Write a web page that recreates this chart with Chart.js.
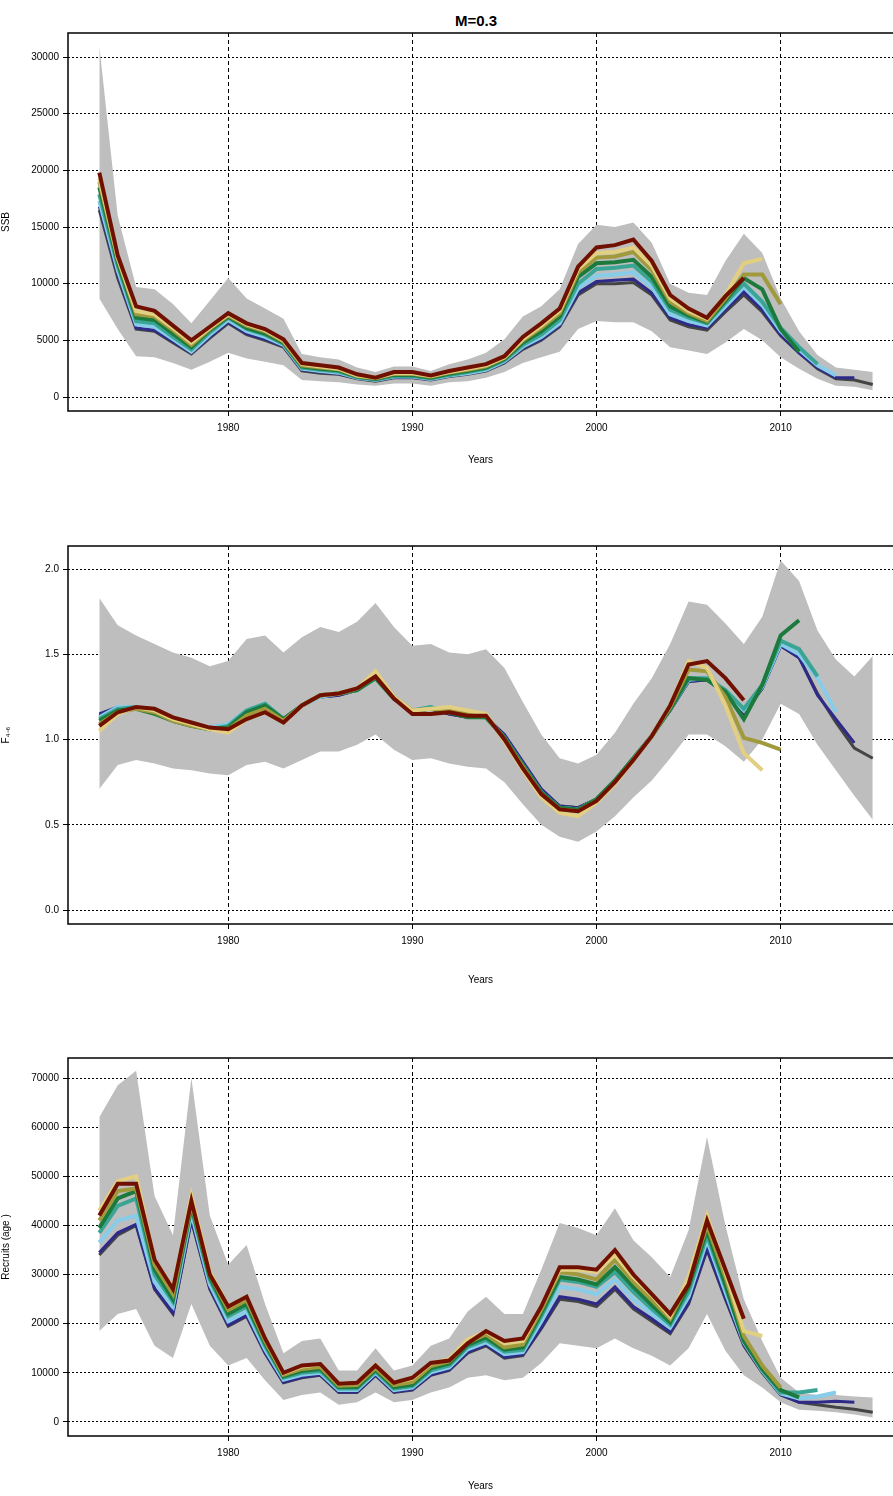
<!DOCTYPE html>
<html>
<head>
<meta charset="utf-8">
<script src="https://cdn.jsdelivr.net/npm/chart.js@4"></script>
<style>
  body { margin: 0; background: #fff; width: 893px; height: 1496px; position: relative; overflow: hidden; font-family: "Liberation Sans", Arial, sans-serif; }
  .panel { position: absolute; left: 0; width: 893px; }
  #title { position: absolute; top: 12px; left: 455px; font-weight: bold; font-size: 15px; }
</style>
</head>
<body>
<div id="title">M=0.3</div>
<div class="panel" style="top:0;height:470px"><canvas id="ssbChart"></canvas></div>
<div class="panel" style="top:530px;height:460px"><canvas id="fChart"></canvas></div>
<div class="panel" style="top:1040px;height:456px"><canvas id="recChart"></canvas></div>
<script>
// --- Data (years 1973..2015, each retro peel ends one year earlier) ---
const years = [];
for (let y = 1973; y <= 2015; y++) years.push(y);

const peelNames = ['2015', '2014', '2013', '2012', '2011', '2010', '2009', '2008'];
const peelColors = ['#444444', '#2e2a8a', '#87cdea', '#3aa595', '#1b7a3c', '#a09a3c', '#e3cf82', '#701000'];
const peelWidths = [3, 3, 4, 4, 4, 4, 4, 4];

// SSB
const ssbUpper = [31000,16000,9700,9500,8200,6500,8500,10500,8700,7800, 6900,3800,3500,3300,2600,2200,2700,2700,2300,2900, 3300,3900,5100,7100,8000,9500,13500,15200,15000,15400, 13600,10000,9200,9000,12000,14400,12700,8700,5800,3700, 2600,2400,2200];
const ssbLower = [8700,6000,3600,3500,3000,2400,3100,3900,3400,3100, 2800,1500,1400,1300,1100,1000,1200,1200,1000,1300, 1400,1700,2200,3000,3500,4000,6000,6700,6600,6600, 5800,4400,4100,3800,4800,6000,5000,3500,2500,1600, 1000,900,600];
const ssb15 = [16500,10500,6000,5800,4800,3800,5200,6500,5500,5000, 4400,2300,2100,2000,1600,1400,1700,1700,1500,1800, 2000,2300,3000,4200,5000,6200,9000,10000,10000,10100, 9000,6800,6200,5900,7500,9000,7500,5400,3900,2500, 1600,1500,1100];
const ssb14 = [16800,10800,6100,5900,4900,3900,5300,6600,5600,5100, 4500,2400,2200,2050,1650,1450,1750,1750,1550,1850, 2050,2350,3050,4300,5100,6300,9200,10200,10300,10400, 9200,7000,6400,6100,7700,9300,7700,5500,3900,2600, 1700,1700];
const ssb13 = [17300,11200,6400,6200,5100,4000,5500,6800,5800,5300, 4600,2500,2300,2150,1700,1500,1800,1800,1600,1900, 2100,2400,3150,4450,5300,6500,9600,10700,10800,11000, 9700,7300,6700,6300,8000,9700,8100,5800,4200,2800, 1900];
const ssb12 = [17900,11600,6700,6500,5300,4200,5700,7000,6000,5500, 4700,2600,2400,2250,1750,1550,1850,1850,1650,1950, 2200,2500,3250,4600,5500,6800,10000,11300,11400,11600, 10200,7700,7000,6500,8300,10000,8400,6100,4400,2900];
const ssb11 = [18500,11900,7000,6800,5600,4400,5900,7100,6100,5600, 4800,2700,2500,2350,1800,1600,1950,1950,1700,2050, 2300,2600,3350,4800,5800,7100,10600,11800,11900,12100, 10600,8000,7200,6600,8500,10500,9500,6000,4000];
const ssb10 = [19000,12200,7300,7100,5900,4600,6000,7200,6300,5800, 4900,2800,2600,2450,1850,1650,2050,2050,1800,2150, 2400,2700,3450,5000,6100,7400,11000,12300,12400,12800, 11200,8400,7400,6700,8700,10800,10800,8200];
const ssb09 = [19300,12300,7600,7300,6100,4800,6100,7300,6400,5900, 5000,2900,2700,2500,1900,1700,2100,2100,1850,2200, 2500,2800,3500,5100,6300,7600,11300,12700,12800,13200, 11600,8700,7600,6900,9000,11800,12200];
const ssb08 = [19800,12500,8000,7600,6300,5000,6200,7400,6500,6000, 5100,3000,2800,2600,2000,1700,2200,2200,1900,2300, 2600,2900,3600,5300,6500,7800,11500,13200,13400,13900, 12000,9000,7800,7000,8900,10500];

// F (ages 4-6)
const fUpper = [1.83,1.67,1.61,1.56,1.51,1.48,1.43,1.46,1.59,1.61, 1.51,1.60,1.66,1.63,1.69,1.80,1.66,1.55,1.56,1.51, 1.50,1.53,1.42,1.22,1.03,0.89,0.86,0.91,1.04,1.21, 1.36,1.56,1.81,1.79,1.68,1.56,1.72,2.05,1.93,1.64, 1.47,1.37,1.49];
const fLower = [0.71,0.85,0.88,0.86,0.83,0.82,0.80,0.79,0.85,0.87, 0.83,0.88,0.93,0.93,0.97,1.03,0.94,0.88,0.89,0.86, 0.84,0.83,0.75,0.62,0.50,0.43,0.40,0.46,0.55,0.66, 0.76,0.89,1.03,1.03,0.96,0.87,1.00,1.21,1.15,0.97, 0.82,0.67,0.53];
const f15 = [1.14,1.19,1.19,1.16,1.12,1.09,1.07,1.09,1.17,1.20, 1.12,1.20,1.25,1.26,1.29,1.36,1.25,1.16,1.18,1.15, 1.13,1.13,1.02,0.86,0.70,0.61,0.60,0.65,0.76,0.89, 1.02,1.17,1.34,1.35,1.27,1.15,1.30,1.55,1.48,1.27, 1.10,0.95,0.89];
const f14 = [1.15,1.19,1.19,1.16,1.12,1.09,1.07,1.09,1.17,1.20, 1.12,1.20,1.25,1.26,1.29,1.36,1.25,1.16,1.18,1.15, 1.13,1.13,1.03,0.87,0.71,0.61,0.60,0.65,0.76,0.89, 1.02,1.17,1.34,1.35,1.27,1.16,1.30,1.55,1.48,1.26, 1.12,0.98];
const f13 = [1.13,1.19,1.19,1.16,1.12,1.09,1.07,1.09,1.17,1.21, 1.12,1.20,1.25,1.27,1.29,1.36,1.25,1.17,1.19,1.16, 1.14,1.13,1.01,0.85,0.69,0.60,0.59,0.65,0.76,0.89, 1.02,1.18,1.35,1.36,1.28,1.17,1.31,1.56,1.50,1.36, 1.16];
const f12 = [1.12,1.18,1.19,1.16,1.11,1.08,1.06,1.08,1.17,1.21, 1.12,1.20,1.26,1.27,1.29,1.36,1.24,1.17,1.19,1.16, 1.14,1.13,1.01,0.85,0.69,0.60,0.59,0.65,0.76,0.89, 1.02,1.18,1.36,1.36,1.29,1.18,1.32,1.58,1.53,1.37];
const f11 = [1.11,1.17,1.18,1.15,1.11,1.08,1.06,1.07,1.16,1.20, 1.12,1.20,1.26,1.27,1.29,1.36,1.24,1.17,1.18,1.16, 1.13,1.13,1.01,0.85,0.69,0.60,0.59,0.65,0.76,0.89, 1.02,1.18,1.36,1.35,1.28,1.12,1.32,1.61,1.70];
const f10 = [1.09,1.16,1.18,1.16,1.11,1.08,1.06,1.06,1.14,1.18, 1.11,1.20,1.26,1.27,1.30,1.37,1.25,1.17,1.18,1.17, 1.15,1.14,1.00,0.84,0.68,0.59,0.58,0.64,0.75,0.88, 1.02,1.19,1.41,1.40,1.25,1.01,0.98,0.94];
const f09 = [1.05,1.15,1.19,1.17,1.12,1.09,1.06,1.04,1.12,1.16, 1.10,1.20,1.26,1.27,1.30,1.40,1.25,1.17,1.18,1.19, 1.17,1.15,0.99,0.82,0.66,0.57,0.55,0.63,0.74,0.88, 1.02,1.20,1.46,1.42,1.20,0.92,0.82];
const f08 = [1.08,1.16,1.19,1.18,1.13,1.10,1.07,1.06,1.12,1.16, 1.10,1.20,1.26,1.27,1.30,1.37,1.24,1.15,1.15,1.16, 1.14,1.14,1.00,0.83,0.68,0.59,0.58,0.64,0.75,0.88, 1.02,1.20,1.44,1.46,1.36,1.23];

// Recruits
const recUpper = [62000,68500,71500,46000,38000,70000,42000,32000,36000,24000, 14000,16500,17000,10500,10500,15000,10500,11500,15500,17000, 22500,25500,22000,22000,31000,40500,39500,38000,43500,37000, 33500,29500,39000,58000,40000,25000,16500,9000,6000,5500, 5500,5200,5000];
const recLower = [18500,22000,23000,15500,13000,24000,15500,11500,13000,8500, 4500,5500,6000,3500,4000,6000,4000,4500,6000,7000, 9000,9500,8500,9000,12000,16000,15500,15000,17000,15000, 13500,11500,15000,22000,14500,9500,7000,4000,2500,2300, 2000,1500,900];
const rec15 = [34000,38000,40000,27000,22000,41000,27000,19500,21500,14000, 8000,9000,9500,6000,6000,9500,6000,6500,9500,10500, 14000,15500,13000,13500,19000,25000,24500,23500,27000,23000, 20500,18000,24000,35000,25000,15500,10000,5500,4000,3500, 3000,2600,2000];
const rec14 = [34500,38500,40200,27200,22200,41200,27200,19700,21700,14100, 8100,9100,9600,6100,6100,9600,6100,6600,9600,10600, 14200,15700,13200,13700,19200,25500,25000,24000,27500,23500, 21000,18300,24300,35200,25200,15700,10200,5600,4000,4000, 4200,4000];
const rec13 = [36500,41000,42000,28500,23500,42500,28000,20500,22500,14800, 8600,9600,10000,6500,6500,10000,6500,7000,10100,11100, 14800,16200,13800,14200,20500,27500,27000,26000,29000,25000, 22000,19200,25500,37000,26500,16200,10400,5800,4800,5200, 6000];
const rec12 = [38500,44000,45500,30000,24500,43500,29000,21500,23500,15500, 9000,10000,10400,6800,6800,10300,6800,7300,10500,11500, 15300,16700,14300,14700,21500,29000,28500,27500,30500,26500, 23000,19800,26500,38000,27500,16500,10600,6000,6000,6500];
const rec11 = [39500,45500,47000,31000,25000,44000,29500,22000,24000,16000, 9300,10400,10800,7100,7100,10600,7100,7600,10900,11900, 15700,17200,14700,15200,22200,29500,29000,28000,31500,27500, 23800,20300,27500,39000,28000,16500,10800,6500,5000];
const rec10 = [41000,47000,47500,32000,26000,44500,30000,22800,24800,16500, 9600,10800,11200,7400,7500,11000,7500,8100,11400,12300, 16200,17800,15200,15800,22800,30500,30000,29000,33000,28500, 24800,21000,28500,40000,29500,17500,11500,7000];
const rec09 = [43000,49000,50000,33000,27000,46000,30500,23500,25500,17000, 9900,11300,11800,7800,8000,11600,8000,8800,11900,12800, 16800,18400,16000,16500,23500,31000,31000,30500,34000,29500, 25800,21500,29500,42000,30500,18500,17500];
const rec08 = [42000,48500,48500,33000,27000,45000,30000,23500,25500,17000, 10000,11500,11800,7800,8000,11500,8000,9000,12000,12500, 16000,18500,16500,17000,23500,31500,31500,31000,35000,30000, 26000,22000,28000,41000,31000,21000];

const xTicks = [1980, 1990, 2000, 2010];
const ssbTicks = [0, 5000, 10000, 15000, 20000, 25000, 30000];
const fTicks = [0, 0.5, 1.0, 1.5, 2.0];
const recTicks = [0, 10000, 20000, 30000, 40000, 50000, 60000, 70000];

// --- helpers ---
const pts = arr => arr.map((v, i) => ({ x: years[i], y: v }));

const framePlugin = {
  id: 'frame',
  afterDraw(chart) {
    const a = chart.chartArea, c = chart.ctx;
    c.save();
    c.strokeStyle = '#000';
    c.lineWidth = 1.5;
    c.strokeRect(a.left, a.top, a.right - a.left + 5, a.bottom - a.top);
    c.restore();
  }
};

function makeChart(id, cfg) {
  // band drawn first (highest order), latest peel (2008) on top
  const datasets = [
    { data: pts(cfg.upper), borderWidth: 0, pointRadius: 0, backgroundColor: '#bebebe', fill: '+1', order: 20 },
    { data: pts(cfg.lower), borderWidth: 0, pointRadius: 0, fill: false, order: 21 }
  ];
  cfg.peels.forEach((p, i) => {
    datasets.push({
      label: peelNames[i], data: pts(p), borderColor: peelColors[i], borderWidth: peelWidths[i],
      pointRadius: 0, fill: false, tension: 0, order: 10 - i
    });
  });

  return new Chart(document.getElementById(id), {
    type: 'line',
    data: { datasets },
    plugins: [framePlugin],
    options: {
      responsive: true,
      maintainAspectRatio: false,
      animation: false,
      layout: { padding: { top: cfg.top, right: 0, left: 0, bottom: 0 } },
      plugins: { legend: { display: false }, tooltip: { enabled: false } },
      scales: {
        x: {
          type: 'linear', min: 1971.3, max: 2016.1,
          afterBuildTicks: s => { s.ticks = xTicks.map(v => ({ value: v })); },
          afterFit: s => { s.height = cfg.xh; },
          grid: { color: '#000', lineWidth: 1, tickLength: 5 },
          border: { display: false, dash: [4, 3] },
          ticks: { color: '#000', font: { size: 10 }, padding: 6, callback: v => String(v) },
          title: { display: true, text: 'Years', color: '#000', font: { size: 10 }, padding: { top: 10 } }
        },
        y: {
          min: cfg.min, max: cfg.max,
          afterBuildTicks: s => { s.ticks = cfg.ticks.map(v => ({ value: v })); },
          afterFit: s => { s.width = 68; },
          grid: { color: '#000', lineWidth: 1, tickLength: 5 },
          border: { display: false, dash: [2, 2] },
          ticks: { color: '#000', font: { size: 10 }, padding: 4, callback: cfg.fmt },
          title: { display: true, text: cfg.ytitle, color: '#000', font: { size: 10 }, padding: 0 }
        }
      }
    }
  });
}

makeChart('ssbChart', {
  upper: ssbUpper, lower: ssbLower,
  peels: [ssb15, ssb14, ssb13, ssb12, ssb11, ssb10, ssb09, ssb08],
  min: -1235, max: 32118, ticks: ssbTicks, fmt: v => String(v),
  ytitle: 'SSB', top: 33, xh: 59
});
makeChart('fChart', {
  upper: fUpper, lower: fLower,
  peels: [f15, f14, f13, f12, f11, f10, f09, f08],
  min: -0.082, max: 2.135, ticks: fTicks, fmt: v => v.toFixed(1),
  ytitle: 'F\u2084\u208B\u2086', top: 16, xh: 66
});
makeChart('recChart', {
  upper: recUpper, lower: recLower,
  peels: [rec15, rec14, rec13, rec12, rec11, rec10, rec09, rec08],
  min: -2850, max: 74070, ticks: recTicks, fmt: v => String(v),
  ytitle: 'Recruits (age )', top: 18, xh: 60
});
</script>
</body>
</html>
